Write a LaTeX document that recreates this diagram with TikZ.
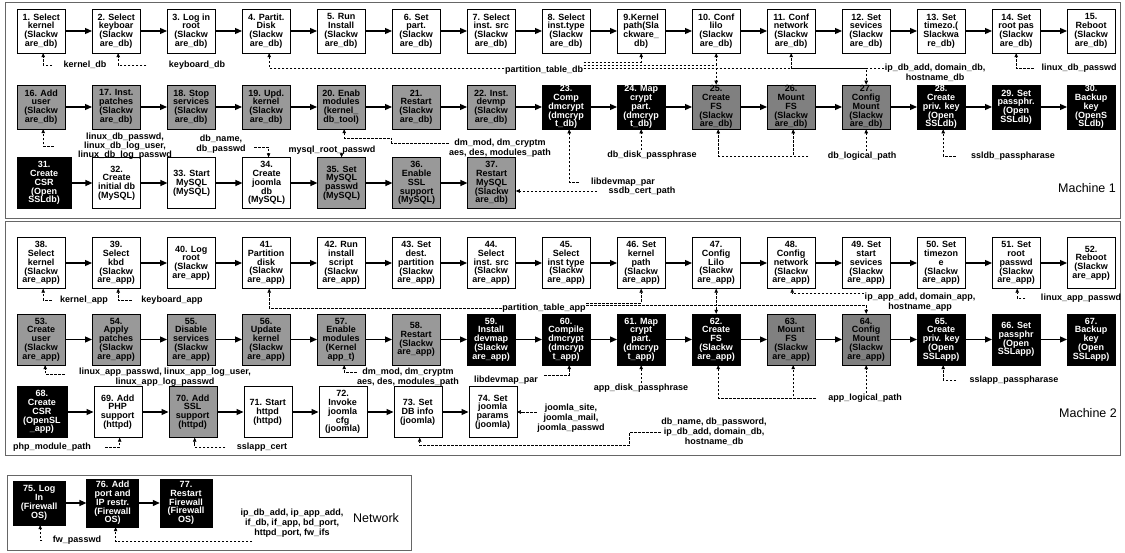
\documentclass[tikz,border=0pt]{standalone}
\usepackage{fontspec}
\setmainfont{Liberation Sans}
\usetikzlibrary{arrows.meta,positioning}
\definecolor{lightgrey}{gray}{0.6}
\definecolor{darkgrey}{gray}{0.5}
\definecolor{framegrey}{gray}{0.4}

\begin{document}
\begin{tikzpicture}[x=1pt, y=-1pt,
  node distance=26.6pt,
  whitebox/.style={rectangle, draw, fill=white, minimum width=48pt, minimum height=44pt, inner sep=0.5pt, align=center, font=\fontsize{9}{8.8}\selectfont\bfseries},
  greybox/.style={whitebox, fill=lightgrey},
  darkbox/.style={whitebox, fill=darkgrey},
  blackbox/.style={whitebox, fill=black, text=white},
  tall/.style={minimum height=51pt},
  param/.style={inner sep=0.5pt, align=center, font=\fontsize{9}{9.8}\selectfont\bfseries},
  machine/.style={inner sep=0pt, font=\fontsize{12.5}{14}\selectfont},
  machineframe/.style={draw=framegrey, line width=1pt},
  flow/.style={-{Triangle[length=7pt,width=6pt]}, line width=1.2pt},
  dep/.style={-{Triangle[length=4pt,width=3.5pt]}, line width=0.6pt, dash pattern=on 2.5pt off 1.5pt},
]
  \useasboundingbox (0,0) rectangle (1125,553);
  \draw[machineframe] (5,3) rectangle (1120,219);
  \draw[machineframe] (5,222) rectangle (1120,455);
  \draw[machineframe] (7,475) rectangle (411,550);

  % Machine 1
  \node[whitebox, anchor=west] (s1) at (17,31) {1. Select\\kernel\\(Slackw\\are\_db)};
  \node[whitebox, right=of s1] (s2) {2. Select\\keyboar\\(Slackw\\are\_db)};
  \node[whitebox, right=of s2] (s3) {3. Log in\\root\\(Slackw\\are\_db)};
  \node[whitebox, right=of s3] (s4) {4. Partit.\\Disk\\(Slackw\\are\_db)};
  \node[whitebox, right=of s4] (s5) {5. Run\\Install\\(Slackw\\are\_db)};
  \node[whitebox, right=of s5] (s6) {6. Set\\part.\\(Slackw\\are\_db)};
  \node[whitebox, right=of s6] (s7) {7. Select\\inst. src\\(Slackw\\are\_db)};
  \node[whitebox, right=of s7] (s8) {8. Select\\inst.type\\(Slackw\\are\_db)};
  \node[whitebox, right=of s8] (s9) {9.Kernel\\path(Sla\\ckware\_\\db)};
  \node[whitebox, right=of s9] (s10) {10. Conf\\lilo\\(Slackw\\are\_db)};
  \node[whitebox, right=of s10] (s11) {11. Conf\\network\\(Slackw\\are\_db)};
  \node[whitebox, right=of s11] (s12) {12. Set\\sevices\\(Slackw\\are\_db)};
  \node[whitebox, right=of s12] (s13) {13. Set\\timezo.(\\Slackwa\\re\_db)};
  \node[whitebox, right=of s13] (s14) {14. Set\\root pas\\(Slackw\\are\_db)};
  \node[whitebox, right=of s14] (s15) {15.\\Reboot\\(Slackw\\are\_db)};

  \node[greybox, anchor=west] (s16) at (17,107) {16. Add\\user\\(Slackw\\are\_db)};
  \node[greybox, right=of s16] (s17) {17. Inst.\\patches\\(Slackw\\are\_db)};
  \node[greybox, right=of s17] (s18) {18. Stop\\services\\(Slackw\\are\_db)};
  \node[greybox, right=of s18] (s19) {19. Upd.\\kernel\\(Slackw\\are\_db)};
  \node[greybox, right=of s19] (s20) {20. Enab\\modules\\(kernel\_\\db\_tool)};
  \node[greybox, right=of s20] (s21) {21.\\Restart\\(Slackw\\are\_db)};
  \node[greybox, right=of s21] (s22) {22. Inst.\\devmp\\(Slackw\\are\_db)};
  \node[blackbox, right=of s22] (s23) {23.\\Comp\\dmcrypt\\(dmcryp\\t\_db)};
  \node[blackbox, right=of s23] (s24) {24. Map\\crypt\\part.\\(dmcryp\\t\_db)};
  \node[darkbox, right=of s24] (s25) {25.\\Create\\FS\\(Slackw\\are\_db)};
  \node[darkbox, right=of s25] (s26) {26.\\Mount\\FS\\(Slackw\\are\_db)};
  \node[darkbox, right=of s26] (s27) {27.\\Config\\Mount\\(Slackw\\are\_db)};
  \node[blackbox, right=of s27] (s28) {28.\\Create\\priv. key\\(Open\\SSLdb)};
  \node[blackbox, right=of s28] (s29) {29. Set\\passphr.\\(Open\\SSLdb)};
  \node[blackbox, right=of s29] (s30) {30.\\Backup\\key\\(OpenS\\SLdb)};

  \node[blackbox, tall, anchor=west, minimum width=54pt] (s31) at (17,183) {31.\\Create\\CSR\\(Open\\SSLdb)};
  \node[whitebox, tall, right=21pt of s31] (s32) {32.\\Create\\initial db\\(MySQL)};
  \node[whitebox, tall, right=of s32] (s33) {33. Start\\MySQL\\(MySQL)};
  \node[whitebox, tall, right=of s33] (s34) {34.\\Create\\joomla\\db\\(MySQL)};
  \node[greybox, tall, right=of s34] (s35) {35. Set\\MySQL\\passwd\\(MySQL)};
  \node[greybox, tall, right=of s35] (s36) {36.\\Enable\\SSL\\support\\(MySQL)};
  \node[greybox, tall, right=of s36] (s37) {37.\\Restart\\MySQL\\(Slackw\\are\_db)};

  \node[param] (kerneldb) at (85,65) {kernel\_db};
  \node[param] (kbddb) at (197,65) {keyboard\_db};
  \node[param] (parttabdb) at (544,70) {partition\_table\_db};
  \node[param] (ipdb) at (935,73) {ip\_db\_add, domain\_db,\\hostname\_db};
  \node[param] (linuxdb) at (1079,68) {linux\_db\_passwd};
  \node[param, font=\fontsize{9}{9}\selectfont\bfseries] (userdb) at (125,146) {linux\_db\_passwd,\\linux\_db\_log\_user,\\linux\_db\_log\_passwd};
  \node[param] (dbname) at (221,144) {db\_name,\\db\_passwd};
  \node[param] (mysqlroot) at (332,150) {mysql\_root\_passwd};
  \node[param] (dmdb) at (500,148) {dm\_mod, dm\_cryptm\\aes, des, modules\_path};
  \node[param] (devmapdb) at (623,182) {libdevmap\_par};
  \node[param] (diskdb) at (652,155) {db\_disk\_passphrase};
  \node[param] (logicdb) at (862,156) {db\_logical\_path};
  \node[param] (ssldb) at (1013,156) {ssldb\_passpharase};
  \node[param] (certdb) at (642,191) {ssdb\_cert\_path};
  \node[machine] (machA) at (1087,188) {Machine 1};

  % Machine 2
  \node[whitebox, tall, anchor=west] (s38) at (17,263) {38.\\Select\\kernel\\(Slackw\\are\_app)};
  \node[whitebox, tall, right=of s38] (s39) {39.\\Select\\kbd\\(Slackw\\are\_app)};
  \node[whitebox, tall, right=of s39] (s40) {40. Log\\root\\(Slackw\\are\_app)};
  \node[whitebox, tall, right=of s40] (s41) {41.\\Partition\\disk\\(Slackw\\are\_app)};
  \node[whitebox, tall, right=of s41] (s42) {42. Run\\install\\script\\(Slackw\\are\_app)};
  \node[whitebox, tall, right=of s42] (s43) {43. Set\\dest.\\partition\\(Slackw\\are\_app)};
  \node[whitebox, tall, right=of s43] (s44) {44.\\Select\\inst. src\\(Slackw\\are\_app)};
  \node[whitebox, tall, right=of s44] (s45) {45.\\Select\\inst type\\(Slackw\\are\_app)};
  \node[whitebox, tall, right=of s45] (s46) {46. Set\\kernel\\path\\(Slackw\\are\_app)};
  \node[whitebox, tall, right=of s46] (s47) {47.\\Config\\Lilo\\(Slackw\\are\_app)};
  \node[whitebox, tall, right=of s47] (s48) {48.\\Config\\network\\(Slackw\\are\_app)};
  \node[whitebox, tall, right=of s48] (s49) {49. Set\\start\\sevices\\(Slackw\\are\_app)};
  \node[whitebox, tall, right=of s49] (s50) {50. Set\\timezon\\e\\(Slackw\\are\_app)};
  \node[whitebox, tall, right=of s50] (s51) {51. Set\\root\\passwd\\(Slackw\\are\_app)};
  \node[whitebox, tall, right=of s51] (s52) {52.\\Reboot\\(Slackw\\are\_app)};

  \node[greybox, tall, anchor=west] (s53) at (17,339.5) {53.\\Create\\user\\(Slackw\\are\_app)};
  \node[greybox, tall, right=of s53] (s54) {54.\\Apply\\patches\\(Slackw\\are\_app)};
  \node[greybox, tall, right=of s54] (s55) {55.\\Disable\\services\\(Slackw\\are\_app)};
  \node[greybox, tall, right=of s55] (s56) {56.\\Update\\kernel\\(Slackw\\are\_app)};
  \node[greybox, tall, right=of s56] (s57) {57.\\Enable\\modules\\(Kernel\\app\_t)};
  \node[greybox, tall, right=of s57] (s58) {58.\\Restart\\(Slackw\\are\_app)};
  \node[blackbox, tall, right=of s58] (s59) {59.\\Install\\devmap\\(Slackw\\are\_app)};
  \node[blackbox, tall, right=of s59] (s60) {60.\\Compile\\dmcrypt\\(dmcryp\\t\_app)};
  \node[blackbox, tall, right=of s60] (s61) {61. Map\\crypt\\part.\\(dmcryp\\t\_app)};
  \node[blackbox, tall, right=of s61] (s62) {62.\\Create\\FS\\(Slackw\\are\_app)};
  \node[darkbox, tall, right=of s62] (s63) {63.\\Mount\\FS\\(Slackw\\are\_app)};
  \node[darkbox, tall, right=of s63] (s64) {64.\\Config\\Mount\\(Slackw\\are\_app)};
  \node[blackbox, tall, right=of s64] (s65) {65.\\Create\\priv. key\\(Open\\SSLapp)};
  \node[blackbox, tall, right=of s65] (s66) {66. Set\\passphr\\(Open\\SSLapp)};
  \node[blackbox, tall, right=of s66] (s67) {67.\\Backup\\key\\(Open\\SSLapp)};

  \node[blackbox, tall, anchor=west, minimum width=49.5pt] (s68) at (17,412) {68.\\Create\\CSR\\(OpenSL\\\_app)};
  \node[whitebox, tall, right=of s68] (s69) {69. Add\\PHP\\support\\(httpd)};
  \node[greybox, tall, right=of s69] (s70) {70. Add\\SSL\\support\\(httpd)};
  \node[whitebox, tall, right=of s70] (s71) {71. Start\\httpd\\(httpd)};
  \node[whitebox, tall, right=of s71] (s72) {72.\\Invoke\\joomla\\cfg\\(joomla)};
  \node[whitebox, tall, right=of s72] (s73) {73. Set\\DB info\\(joomla)};
  \node[whitebox, tall, right=of s73] (s74) {74. Set\\joomla\\params\\(joomla)};

  \node[param] (kernelapp) at (84,300) {kernel\_app};
  \node[param] (kbdapp) at (172,300) {keyboard\_app};
  \node[param] (parttabapp) at (544,308) {partition\_table\_app};
  \node[param] (ipapp) at (920,302) {ip\_app\_add, domain\_app,\\hostname\_app};
  \node[param] (linuxapp) at (1081,298) {linux\_app\_passwd};
  \node[param] (userapp) at (165,377) {linux\_app\_passwd, linux\_app\_log\_user,\\linux\_app\_log\_passwd};
  \node[param] (dmapp) at (408,377) {dm\_mod, dm\_cryptm\\aes, des, modules\_path};
  \node[param] (devmapapp) at (506,380) {libdevmap\_par};
  \node[param] (diskapp) at (641,388) {app\_disk\_passphrase};
  \node[param] (logicapp) at (865,398) {app\_logical\_path};
  \node[param] (sslapp) at (1014,380) {sslapp\_passpharase};
  \node[param] (phpmod) at (52,447) {php\_module\_path};
  \node[param] (sslcert) at (262,447) {sslapp\_cert};
  \node[param] (joomla) at (571,418) {joomla\_site,\\joomla\_mail,\\joomla\_passwd};
  \node[param] (dbinfo) at (714,432) {db\_name, db\_password,\\ip\_db\_add, domain\_db,\\hostname\_db};
  \node[machine] (machB) at (1088,413) {Machine 2};

  % Network
  \node[blackbox, anchor=west, minimum width=52pt] (s75) at (13,503) {75. Log\\In\\(Firewall\\OS)};
  \node[blackbox, minimum width=52pt, minimum height=48pt, right=21pt of s75] (s76) {76. Add\\port and\\IP restr.\\(Firewall\\OS)};
  \node[blackbox, minimum width=52pt, minimum height=48pt, right=21pt of s76] (s77) {77.\\Restart\\Firewall\\(Firewall\\OS)};
  \node[param] (fwpass) at (77,540) {fw\_passwd};
  \node[param] (netparams) at (292,523) {ip\_db\_add, ip\_app\_add,\\if\_db, if\_app, bd\_port,\\httpd\_port, fw\_ifs};
  \node[machine] (netlab) at (376,518) {Network};

  \draw[flow] (s1) -- (s2);
  \draw[flow] (s2) -- (s3);
  \draw[flow] (s3) -- (s4);
  \draw[flow] (s4) -- (s5);
  \draw[flow] (s5) -- (s6);
  \draw[flow] (s6) -- (s7);
  \draw[flow] (s7) -- (s8);
  \draw[flow] (s8) -- (s9);
  \draw[flow] (s9) -- (s10);
  \draw[flow] (s10) -- (s11);
  \draw[flow] (s11) -- (s12);
  \draw[flow] (s12) -- (s13);
  \draw[flow] (s13) -- (s14);
  \draw[flow] (s14) -- (s15);
  \draw[flow] (s16) -- (s17);
  \draw[flow] (s17) -- (s18);
  \draw[flow] (s18) -- (s19);
  \draw[flow] (s19) -- (s20);
  \draw[flow] (s20) -- (s21);
  \draw[flow] (s21) -- (s22);
  \draw[flow] (s22) -- (s23);
  \draw[flow] (s23) -- (s24);
  \draw[flow] (s24) -- (s25);
  \draw[flow] (s25) -- (s26);
  \draw[flow] (s26) -- (s27);
  \draw[flow] (s27) -- (s28);
  \draw[flow] (s28) -- (s29);
  \draw[flow] (s29) -- (s30);
  \draw[flow] (s31) -- (s32);
  \draw[flow] (s32) -- (s33);
  \draw[flow] (s33) -- (s34);
  \draw[flow] (s34) -- (s35);
  \draw[flow] (s35) -- (s36);
  \draw[flow] (s36) -- (s37);
  \draw[flow] (s38) -- (s39);
  \draw[flow] (s39) -- (s40);
  \draw[flow] (s40) -- (s41);
  \draw[flow] (s41) -- (s42);
  \draw[flow] (s42) -- (s43);
  \draw[flow] (s43) -- (s44);
  \draw[flow] (s44) -- (s45);
  \draw[flow] (s45) -- (s46);
  \draw[flow] (s46) -- (s47);
  \draw[flow] (s47) -- (s48);
  \draw[flow] (s48) -- (s49);
  \draw[flow] (s49) -- (s50);
  \draw[flow] (s50) -- (s51);
  \draw[flow] (s51) -- (s52);
  \draw[flow] (s53) -- (s54);
  \draw[flow] (s54) -- (s55);
  \draw[flow] (s55) -- (s56);
  \draw[flow] (s56) -- (s57);
  \draw[flow] (s57) -- (s58);
  \draw[flow] (s58) -- (s59);
  \draw[flow] (s59) -- (s60);
  \draw[flow] (s60) -- (s61);
  \draw[flow] (s61) -- (s62);
  \draw[flow] (s62) -- (s63);
  \draw[flow] (s63) -- (s64);
  \draw[flow] (s64) -- (s65);
  \draw[flow] (s65) -- (s66);
  \draw[flow] (s66) -- (s67);
  \draw[flow] (s68) -- (s69);
  \draw[flow] (s69) -- (s70);
  \draw[flow] (s70) -- (s71);
  \draw[flow] (s71) -- (s72);
  \draw[flow] (s72) -- (s73);
  \draw[flow] (s73) -- (s74);
  \draw[flow] (s75) -- (s76);
  \draw[flow] (s76) -- (s77);

  \draw[dep] ([xshift=-11pt]kerneldb.west) -| ([xshift=2pt]s1.south);
  \draw[dep] ([xshift=-22pt]kbddb.west) -| ([xshift=2pt]s2.south);
  \draw[dep] ([yshift=2pt]parttabdb.west) -| ([xshift=3pt]s4.south);
  \draw[dep] ([yshift=8pt]parttabdb.east) -| (s9.south);
  \draw[dep] ([yshift=5pt]parttabdb.east) -| (s10.south);
  \draw[dep] ([yshift=2pt]parttabdb.east) -| (s25.north);
  \draw[dep] ([yshift=2pt]parttabdb.east) -| (s27.north);
  \draw[dep] ([yshift=5pt]ipdb.west) -| (s11.south);
  \draw[dep] ([xshift=-7pt]linuxdb.west) -| (s14.south);
  \draw[dep] ([xshift=-24pt]userdb.west) -| ([xshift=2pt]s16.south);
  \draw[dep] ([xshift=8pt,yshift=-3pt]dbname.east) -| ([xshift=2pt]s34.north);
  \draw[dep] (mysqlroot.south -| s35.north) -- (s35.north);
  \draw[dep] ([yshift=5pt]dmdb.west) -- ++(-57,0) -- ++(0,-5) -| ([xshift=3pt]s20.south);
  \draw[dep] ([xshift=-12pt]devmapdb.west) -| ([xshift=3pt]s23.south);
  \draw[dep] (diskdb.north -| s24.south) -- (s24.south);
  \draw[dep] ([xshift=-19pt]logicdb.west) -| ([xshift=2pt]s25.south);
  \draw[dep] ([xshift=-19pt]logicdb.west) -| ([xshift=2pt]s26.south);
  \draw[dep] (logicdb.north -| s27.south) -- (s27.south);
  \draw[dep] ([xshift=-15pt]ssldb.west) -| ([xshift=2pt]s28.south);
  \draw[dep, shorten <=11pt] (certdb.west) -- (certdb.west -| s37.east);

  \draw[dep] ([xshift=-8pt]kernelapp.west) -| ([xshift=2pt]s38.south);
  \draw[dep] ([xshift=-9pt]kbdapp.west) -| ([xshift=2pt]s39.south);
  \draw[dep] (parttabapp.west) -| ([xshift=3pt]s41.south);
  \draw[dep] ([yshift=5pt]parttabapp.east) -| (s46.south);
  \draw[dep] ([yshift=3pt]parttabapp.east) -| (s47.south);
  \draw[dep] ([yshift=3pt]parttabapp.east) -| (s62.north);
  \draw[dep] ([yshift=3pt]parttabapp.east) -| (s64.north);
  \draw[dep] ([yshift=9pt]ipapp.west) -| ([xshift=1pt]s48.south);
  \draw[dep] ([xshift=-15pt]linuxapp.west) -| ([xshift=1pt]s51.south);
  \draw[dep] ([xshift=-14pt,yshift=3pt]userapp.west) -| ([xshift=4pt]s53.south);
  \draw[dep] ([yshift=5pt]dmapp.west) -| ([xshift=3pt]s57.south);
  \draw[dep] ([xshift=6pt,yshift=5pt]devmapapp.east) -| ([xshift=3pt]s60.south);
  \draw[dep] (diskapp.north -| s61.south) -- (s61.south);
  \draw[dep] ([xshift=-12pt]logicapp.west) -| ([xshift=2pt]s62.south);
  \draw[dep] ([xshift=-12pt]logicapp.west) -| ([xshift=2pt]s63.south);
  \draw[dep] (logicapp.north -| s64.south) -- (s64.south);
  \draw[dep] ([xshift=-13pt]sslapp.west) -| ([xshift=2pt]s65.south);
  \draw[dep] ([xshift=14pt]phpmod.east) -| ([xshift=2pt]s69.south);
  \draw[dep] ([xshift=-11pt]sslcert.west) -| ([xshift=2pt]s70.south);
  \draw[dep] (joomla.west |- s74.east) -- (s74.east);
  \draw[dep] (dbinfo.west) -- ++(-31,0) -- ++(0,13) -| ([xshift=2pt]s73.south);

  \draw[dep] ([xshift=-10pt]fwpass.west) -| ([xshift=1pt]s75.south);
  \draw[dep] ([xshift=12pt,yshift=-4pt]netparams.south west) -| ([xshift=3pt]s76.south);
\end{tikzpicture}
\end{document}
